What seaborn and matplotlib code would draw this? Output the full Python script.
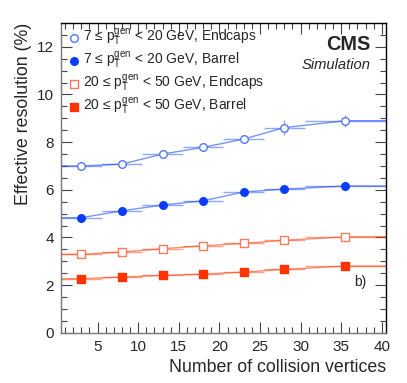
import numpy as np
import pandas as pd
import matplotlib
matplotlib.use("Agg")
import matplotlib.pyplot as plt
import seaborn as sns
from matplotlib.ticker import MultipleLocator

# ---------------------------------------------------------
# data
# ---------------------------------------------------------
bin_centers = [3, 8, 13, 18, 23, 28, 35.5]
bin_halfwidth = [2.5, 2.5, 2.5, 2.5, 2.5, 2.5, 5.0]

low_endcap = [7.00, 7.08, 7.50, 7.78, 8.13, 8.61, 8.90]
low_endcap_err = [0.05, 0.05, 0.06, 0.07, 0.09, 0.30, 0.25]

low_barrel = [4.83, 5.12, 5.36, 5.54, 5.91, 6.03, 6.16]
low_barrel_err = [0.04, 0.04, 0.04, 0.05, 0.06, 0.08, 0.20]

high_endcap = [3.29, 3.39, 3.53, 3.65, 3.75, 3.88, 4.03]
high_endcap_err = [0.03, 0.03, 0.03, 0.03, 0.04, 0.04, 0.05]

high_barrel = [2.27, 2.34, 2.41, 2.46, 2.55, 2.66, 2.80]
high_barrel_err = [0.03, 0.03, 0.03, 0.03, 0.03, 0.04, 0.05]

labels = [
    "7 ≤ $\\mathrm{p}_{\\mathrm{T}}^{\\mathrm{gen}}$ < 20 GeV, Endcaps",
    "7 ≤ $\\mathrm{p}_{\\mathrm{T}}^{\\mathrm{gen}}$ < 20 GeV, Barrel",
    "20 ≤ $\\mathrm{p}_{\\mathrm{T}}^{\\mathrm{gen}}$ < 50 GeV, Endcaps",
    "20 ≤ $\\mathrm{p}_{\\mathrm{T}}^{\\mathrm{gen}}$ < 50 GeV, Barrel",
]

x_min, x_max = 0.5, 40.5

# ---------------------------------------------------------
# style
# ---------------------------------------------------------
sns.set_style("ticks")
plt.rcParams["font.family"] = ["Liberation Sans", "DejaVu Sans"]
plt.rcParams["mathtext.fontset"] = "custom"
plt.rcParams["mathtext.rm"] = "Liberation Sans"
plt.rcParams["mathtext.it"] = "Liberation Sans:italic"
plt.rcParams["mathtext.bf"] = "Liberation Sans:bold"

blue = "#0a3cff"
blue_open = "#5577ff"
red = "#ff3300"
red_open = "#ff7a5c"

series = [
    (low_endcap, low_endcap_err, blue, blue_open, "o", "white"),
    (low_barrel, low_barrel_err, blue, blue, "o", blue),
    (high_endcap, high_endcap_err, red, red_open, "s", "white"),
    (high_barrel, high_barrel_err, red, red, "s", red),
]

fig = plt.figure(figsize=(4.07, 3.83), dpi=100)
ax = fig.add_axes([0.150, 0.131, 0.798, 0.809])

handles = []
for (vals, errs, col, edge, mk, face), lab in zip(series, labels):
    # connecting line, extended flat to both axis edges
    df = pd.DataFrame({
        "x": [x_min] + bin_centers + [x_max],
        "y": [vals[0]] + vals + [vals[-1]],
    })
    sns.lineplot(data=df, x="x", y="y", ax=ax, color=col, alpha=0.55,
                 linewidth=1.0, sort=False, estimator=None)
    ax.errorbar(bin_centers, vals, xerr=bin_halfwidth, yerr=errs,
                fmt="none", ecolor=col, alpha=0.45, elinewidth=1.0, capsize=0)
    h = ax.scatter(bin_centers, vals, marker=mk, s=30 if mk == "o" else 28,
                   facecolors=face, edgecolors=edge, linewidths=1.0,
                   zorder=5, label=lab)
    handles.append(h)

ax.set_xlim(x_min, x_max)
ax.set_ylim(0, 13)
ax.xaxis.set_major_locator(MultipleLocator(5))
ax.xaxis.set_minor_locator(MultipleLocator(1))
ax.yaxis.set_major_locator(MultipleLocator(2))
ax.yaxis.set_minor_locator(MultipleLocator(0.5))
ax.set_xticks([5, 10, 15, 20, 25, 30, 35, 40])

ax.tick_params(which="both", direction="in", top=True, right=True,
               labelsize=11, color="#444444")
ax.tick_params(which="major", length=8, width=0.8, pad=5)
ax.tick_params(which="minor", length=4, width=0.8)
for sp in ax.spines.values():
    sp.set_linewidth(1.0)
    sp.set_color("black")
ax.spines["left"].set_color("#777777")
ax.spines["bottom"].set_color("#777777")

ax.set_xlabel("Number of collision vertices", fontsize=12.8, loc="right")
ax.set_ylabel("Effective resolution (%)", fontsize=12.8, loc="top")

leg = ax.legend(handles=handles, loc="upper left", frameon=False,
                fontsize=10, handletextpad=0.25, borderaxespad=0.0,
                borderpad=0.3, labelspacing=0.12, handlelength=0.8,
                bbox_to_anchor=(0.01, 1.0))

ax.text(0.954, 0.929, "CMS", transform=ax.transAxes, ha="right", va="center",
        fontsize=14.3, fontweight="bold")
ax.text(0.954, 0.865, "Simulation", transform=ax.transAxes, ha="right",
        va="center", fontsize=10.6, style="italic")
ax.text(0.94, 0.165, "b)", transform=ax.transAxes, ha="right", va="center",
        fontsize=10)

fig.savefig("out.png", dpi=100)
